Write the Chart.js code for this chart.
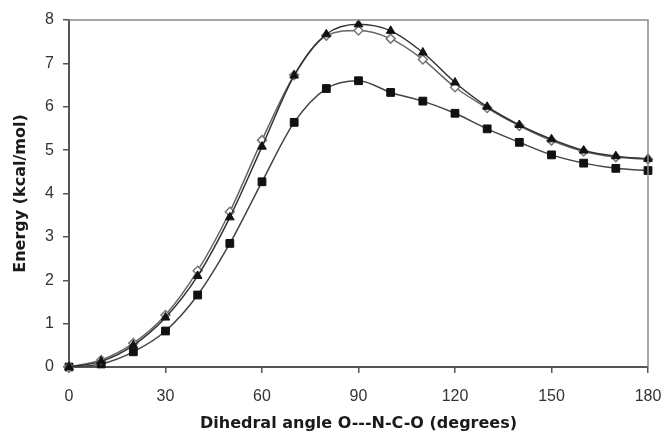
<!DOCTYPE html>
<html>
<head>
<meta charset="utf-8">
<script src="https://cdn.jsdelivr.net/npm/chart.js@4"></script>
<style>
    html, body { margin: 0; padding: 0; background: #fff; }
    #wrap { width: 667px; height: 439px; }
</style>
</head>
<body>
<div id="wrap"><canvas id="energyChart" width="667" height="439"></canvas></div>
<script>
// dihedral angle (degrees)
const angles = [0, 10, 20, 30, 40, 50, 60, 70, 80, 90, 100, 110, 120, 130, 140, 150, 160, 170, 180];
// energy curves (kcal/mol)
const triangleSeries = [0, 0.13, 0.5, 1.14, 2.1, 3.45, 5.08, 6.72, 7.67, 7.9, 7.75, 7.25, 6.56, 6.0, 5.58, 5.25, 4.99, 4.86, 4.8];
const diamondSeries = [0, 0.16, 0.55, 1.2, 2.22, 3.58, 5.23, 6.73, 7.64, 7.76, 7.57, 7.09, 6.45, 5.97, 5.56, 5.22, 4.97, 4.84, 4.79];
const squareSeries = [0, 0.07, 0.35, 0.83, 1.66, 2.85, 4.27, 5.64, 6.42, 6.6, 6.33, 6.13, 5.85, 5.49, 5.18, 4.89, 4.7, 4.58, 4.53];
const xTicks = [0, 30, 60, 90, 120, 150, 180];
const yTicks = [0, 1, 2, 3, 4, 5, 6, 7, 8];

document.addEventListener("DOMContentLoaded", function() {
    const ctx = document.getElementById("energyChart").getContext("2d");
    const tickFont = { family: "'Liberation Sans', Arial, sans-serif", size: 16 };
    const titleFont = { family: "'DejaVu Sans', sans-serif", size: 16, weight: "bold" };

    function toPoints(values) {
        return values.map((v, i) => ({ x: angles[i], y: v }));
    }

    // gray frame on top and right like the original plot area
    const frame = {
        id: "frame",
        afterDatasetsDraw(chart) {
            const a = chart.chartArea;
            const c = chart.ctx;
            c.save();
            c.strokeStyle = "#8a8a8a";
            c.lineWidth = 1.5;
            c.beginPath();
            c.moveTo(a.left, a.top);
            c.lineTo(a.right, a.top);
            c.lineTo(a.right, a.bottom);
            c.stroke();
            c.restore();
        }
    };

    new Chart(ctx, {
        type: "line",
        data: {
            datasets: [
                {
                    label: "triangles",
                    data: toPoints(triangleSeries),
                    borderColor: "#333",
                    borderWidth: 1.5,
                    pointStyle: "triangle",
                    pointRadius: 5,
                    pointBackgroundColor: "#111",
                    pointBorderColor: "#111",
                    pointBorderWidth: 1,
                    tension: 0.4,
                    cubicInterpolationMode: "monotone"
                },
                {
                    label: "diamonds",
                    data: toPoints(diamondSeries),
                    borderColor: "#666",
                    borderWidth: 1.5,
                    pointStyle: "rectRot",
                    pointRadius: 4.5,
                    pointBackgroundColor: "#fff",
                    pointBorderColor: "#777",
                    pointBorderWidth: 1.5,
                    tension: 0.4,
                    cubicInterpolationMode: "monotone"
                },
                {
                    label: "squares",
                    data: toPoints(squareSeries),
                    borderColor: "#444",
                    borderWidth: 1.5,
                    pointStyle: "rect",
                    pointRadius: 5.5,
                    pointBackgroundColor: "#111",
                    pointBorderColor: "#111",
                    pointBorderWidth: 1,
                    tension: 0.4,
                    cubicInterpolationMode: "monotone"
                }
            ]
        },
        options: {
            responsive: false,
            animation: false,
            clip: false,
            layout: { padding: { top: 20, right: 19, left: 0, bottom: 0 } },
            plugins: {
                legend: { display: false },
                tooltip: { enabled: false }
            },
            scales: {
                x: {
                    type: "linear",
                    min: 0,
                    max: 180,
                    afterFit: function(scale) {
                        scale.height = 72;
                        scale.paddingLeft = 0;
                        scale.paddingRight = 0;
                    },
                    afterBuildTicks: function(scale) { scale.ticks = xTicks.map(v => ({ value: v })); },
                    grid: { display: true, drawOnChartArea: false, drawTicks: true, tickLength: 6, color: "#555", lineWidth: 1.5 },
                    border: { display: true, color: "#555", width: 2 },
                    ticks: {
                        color: "#333",
                        padding: 14,
                        maxRotation: 0,
                        font: tickFont
                    },
                    title: {
                        display: true,
                        text: "Dihedral angle O---N-C-O (degrees)",
                        color: "#1a1a1a",
                        padding: { top: 0, bottom: 6 },
                        font: titleFont
                    }
                },
                y: {
                    min: 0,
                    max: 8,
                    afterFit: function(scale) { scale.width = 69; },
                    afterBuildTicks: function(scale) { scale.ticks = yTicks.map(v => ({ value: v })); },
                    grid: { display: true, drawOnChartArea: false, drawTicks: true, tickLength: 6, color: "#555", lineWidth: 1.5 },
                    border: { display: true, color: "#555", width: 2 },
                    ticks: {
                        color: "#333",
                        padding: 9,
                        font: tickFont
                    },
                    title: {
                        display: true,
                        text: "Energy (kcal/mol)",
                        color: "#1a1a1a",
                        padding: { top: 11, bottom: 0 },
                        font: titleFont
                    }
                }
            }
        },
        plugins: [frame]
    });
});
</script>
</body>
</html>
